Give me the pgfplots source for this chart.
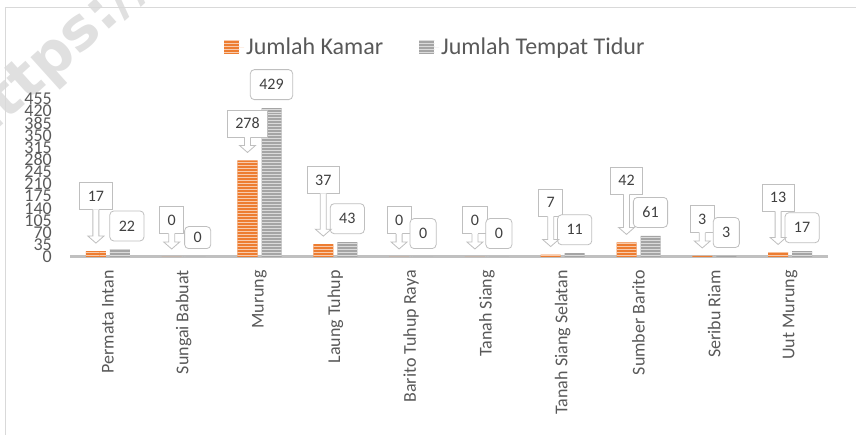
\documentclass[border=0pt]{standalone}
\usepackage{pgfplots}
\pgfplotsset{compat=1.18}
\usepackage{pgfplotstable}
\usepackage{fontspec}
\setmainfont{Carlito}
\newfontfamily\wmfont{DejaVu Sans}
\usetikzlibrary{patterns}
\definecolor{korange}{HTML}{ED7D31}
\definecolor{kgray}{HTML}{A5A5A5}
\definecolor{stripeO}{HTML}{F8CBAD}
\definecolor{stripeG}{HTML}{DBDBDB}
\definecolor{txt}{HTML}{595959}
\definecolor{lbltxt}{HTML}{404040}
\definecolor{bord}{HTML}{BFBFBF}
\definecolor{axl}{HTML}{C0C0C0}
\definecolor{framec}{HTML}{D9D9D9}
\pgfplotsset{/pgf/number format/assume math mode=true}

\pgfplotstableread{
x k t len gdx gh
0 17 22 33 7 30
1 0 0 15 2 22
2 278 429 15 0 30
3 37 43 42 0 30
4 0 0 15 0 30
5 0 0 15 0 30
6 7 11 30 0 30
7 42 61 40 0 30
8 3 3 15 0 30
9 13 17 33 0 30
}\data

\begin{document}
\begin{tikzpicture}
\useasboundingbox (0,0) rectangle (856bp,435bp);
\node[rotate=42, anchor=base west, font=\wmfont\bfseries\fontsize{58bp}{58bp}\selectfont, text=black!12, inner sep=0pt] at (-24bp,286bp) {https://};
\draw[framec, line width=1bp] (5.5bp,0) -- (5.5bp,427.5bp) -- (856bp,427.5bp);
\begin{axis}[
  at={(70bp,178bp)}, anchor=south west,
  scale only axis, width=758bp, height=158bp,
  ybar, bar width=20bp,
  xmin=-0.5, xmax=9.5, ymin=0, ymax=455,
  ytick={0,35,...,455},
  xtick={0,...,9},
  xticklabels={Permata Intan, Sungai Babuat, Murung, Laung Tuhup, Barito Tuhup Raya, Tanah Siang, Tanah Siang Selatan, Sumber Barito, Seribu Riam, Uut Murung},
  separate axis lines,
  axis x line*=bottom, axis y line*=left,
  x axis line style={draw=axl, line width=3bp, -},
  y axis line style={draw=none},
  major tick length=0pt,
  xticklabel style={rotate=90, anchor=east, inner sep=0pt, font=\fontsize{18bp}{18bp}\selectfont, text=txt},
  yticklabel style={anchor=east, inner sep=0pt, font=\fontsize{18bp}{18bp}\selectfont, text=txt},
  xticklabel shift=13bp, yticklabel shift=18bp,
  clip=false,
  legend style={at={(0.482,1.329)}, anchor=center, draw=none, fill=none, font=\fontsize{24bp}{24bp}\selectfont, text=txt, legend columns=-1, /tikz/every even column/.append style={column sep=34bp}},
  legend cell align=left,
]
\addplot[fill=korange, draw=none, bar shift=-12bp,
  postaction={pattern=horizontal lines, pattern color=stripeO},
  legend image code/.code={\path (0bp,0bp) -- (20bp,0bp); \fill[korange] (0bp,-7bp) rectangle (15bp,7bp); \fill[pattern=horizontal lines, pattern color=stripeO] (0bp,-7bp) rectangle (15bp,7bp);},
  nodes near coords,
  visualization depends on={\thisrow{len} \as \arrlen},
  every node near coord/.append style={anchor=south, yshift={(8+\arrlen)*1bp}, draw=bord, line width=0.8bp, fill=white, inner xsep=8bp, inner ysep=0pt, minimum height=27bp, text=lbltxt, font=\fontsize{16bp}{16bp}\selectfont},
] table[x=x, y=k] {\data};
\addplot[fill=kgray, draw=none, bar shift=12bp,
  postaction={pattern=horizontal lines, pattern color=stripeG},
  legend image code/.code={\path (0bp,0bp) -- (20bp,0bp); \fill[kgray] (0bp,-7bp) rectangle (15bp,7bp); \fill[pattern=horizontal lines, pattern color=stripeG] (0bp,-7bp) rectangle (15bp,7bp);},
  nodes near coords,
  visualization depends on={\thisrow{gdx} \as \gdx},
  visualization depends on={\thisrow{gh} \as \gh},
  every node near coord/.append style={anchor=south, yshift=8bp, xshift={\gdx*1bp}, draw=bord, line width=0.8bp, fill=white, rounded corners=4bp, inner xsep=9bp, inner ysep=0pt, minimum height={\gh*1bp}, text=lbltxt, font=\fontsize{16bp}{16bp}\selectfont},
] table[x=x, y=t] {\data};
\addplot[forget plot, sharp plot, draw=none, fill=none,
  scatter, mark=*, mark size=0pt,
  visualization depends on={\thisrow{len} \as \arrlen},
  scatter/@pre marker code/.code={%
    \pgfmathsetlengthmacro\topy{(8+\arrlen)*1bp}%
    \pgfmathsetlengthmacro\topyy{(8.8+\arrlen)*1bp}%
    \fill[white] (-15bp,\topyy) -- (-15bp,15bp) -- (-20bp,15bp) -- (-12bp,8bp) -- (-4bp,15bp) -- (-9bp,15bp) -- (-9bp,\topyy) -- cycle;
    \draw[bord, line width=0.8bp] (-15bp,\topy) -- (-15bp,15bp) -- (-20bp,15bp) -- (-12bp,8bp) -- (-4bp,15bp) -- (-9bp,15bp) -- (-9bp,\topy);
  },
  scatter/@post marker code/.code={},
] table[x=x, y=k] {\data};
\legend{Jumlah Kamar, Jumlah Tempat Tidur}
\end{axis}
\end{tikzpicture}
\end{document}
